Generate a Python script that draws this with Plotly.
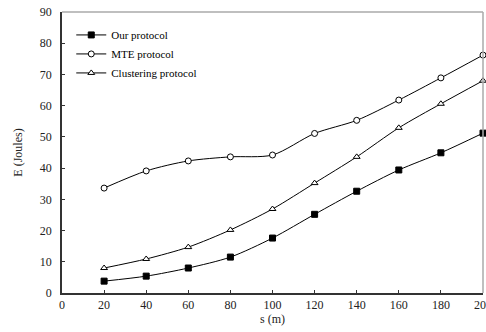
import plotly.graph_objects as go

s_values = [20, 40, 60, 80, 100, 120, 140, 160, 180, 200]
our_protocol = [3.8, 5.4, 8.0, 11.5, 17.6, 25.2, 32.6, 39.4, 44.9, 51.2]
mte_protocol = [33.6, 39.1, 42.3, 43.6, 44.2, 51.1, 55.3, 61.8, 68.9, 76.2]
clustering_protocol = [8.0, 10.9, 14.7, 20.2, 26.9, 35.2, 43.6, 52.9, 60.6, 68.0]
x_ticks = [0, 20, 40, 60, 80, 100, 120, 140, 160, 180, 200]
x_tick_labels = ["0", "20", "40", "60", "80", "100", "120", "140", "160", "180", "200"]
y_ticks = [0, 10, 20, 30, 40, 50, 60, 70, 80, 90]

FONT = "Liberation Serif, Times New Roman, serif"

fig = go.Figure()
series = [
    ("Our protocol", our_protocol, "square", "black", 6),
    ("MTE protocol", mte_protocol, "circle", "white", 6),
    ("Clustering protocol", clustering_protocol, "triangle-up", "white", 6),
]
for name, ys, sym, fill, size in series:
    fig.add_trace(go.Scatter(
        x=s_values, y=ys, name=name, mode="lines+markers",
        line=dict(color="black", width=1, shape="spline", smoothing=0.8),
        marker=dict(symbol=sym, size=size, color=fill, line=dict(color="black", width=1)),
        cliponaxis=False,
    ))

fig.update_layout(
    width=486, height=332, autosize=False,
    margin=dict(l=62, r=3, t=12, b=39),
    paper_bgcolor="white", plot_bgcolor="white",
    font=dict(family=FONT, size=12, color="#222"),
    showlegend=True,
    legend=dict(
        x=0.022, y=0.97, xanchor="left", yanchor="top",
        bgcolor="rgba(0,0,0,0)", font=dict(family=FONT, size=11, color="black"),
        itemwidth=30, tracegroupgap=0,
    ),
    xaxis=dict(
        range=[0, 200], tickvals=x_ticks, ticktext=x_tick_labels,
        showgrid=False, zeroline=False, showline=True, linecolor="#333", linewidth=1.5,
        ticks="inside", ticklen=3, tickcolor="#333", ticklabeloverflow="allow",
        automargin=False,
        title=dict(text="s (m)", font=dict(family=FONT, size=12), standoff=3),
        tickfont=dict(family=FONT, size=12),
    ),
    yaxis=dict(
        range=[0, 90], tickvals=y_ticks,
        showgrid=False, zeroline=False, showline=True, linecolor="#333", linewidth=1.5,
        ticks="inside", ticklen=3, tickcolor="#333", ticklabelstandoff=6,
        ticklabeloverflow="allow", automargin=False,
        title=dict(text="E (Joules)", font=dict(family=FONT, size=12)),
        tickfont=dict(family=FONT, size=12),
    ),
    shapes=[
        dict(type="line", xref="paper", yref="paper", x0=0, x1=1, y0=1, y1=1,
             line=dict(color="#aaa", width=1.5)),
        dict(type="line", xref="paper", yref="paper", x0=1, x1=1, y0=0, y1=1,
             line=dict(color="#aaa", width=1.5)),
    ],
)

fig.write_html(
    "out.html",
    config={"displayModeBar": False, "responsive": False},
    post_script="document.body.style.margin='0px';document.documentElement.style.overflow='hidden';",
)
